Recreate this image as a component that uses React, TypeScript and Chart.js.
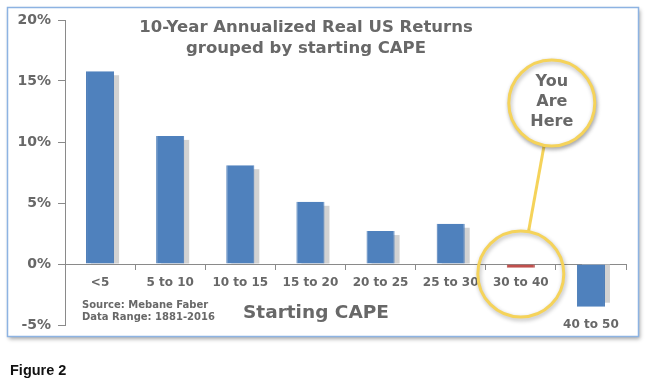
import React, { useEffect, useRef } from 'react';
import { Chart, registerables } from 'chart.js';

Chart.register(...registerables);

const categories = ['<5', '5 to 10', '10 to 15', '15 to 20', '20 to 25', '25 to 30', '30 to 40', '40 to 50'];
const returns = [15.8, 10.5, 8.1, 5.1, 2.7, 3.3, -0.3, -3.5];
const barColors = ['#4f81bd', '#4f81bd', '#4f81bd', '#4f81bd', '#4f81bd', '#4f81bd', '#c0504d', '#4f81bd'];
const yTicks = [-5, 0, 5, 10, 15, 20];
const titleLines = ['10-Year Annualized Real US Returns', 'grouped by starting CAPE'];
const sourceLines = ['Source: Mebane Faber', 'Data Range: 1881-2016'];
const axisTitle = 'Starting CAPE';
const calloutLines = ['You', 'Are', 'Here'];
const figureLabel = 'Figure 2';
const highlightIndex = 6;
const lowLabelIndex = 7;

const FONT = '"DejaVu Sans", Verdana, sans-serif';
const GRAY_TEXT = '#686868';
const YELLOW = '#f5d35a';

const framePlugin = {
  id: 'frame',
  beforeDraw(chart: any) {
    const ctx = chart.ctx;
    ctx.save();
    ctx.fillStyle = '#ffffff';
    ctx.fillRect(0, 0, chart.width, chart.height);
    ctx.shadowColor = 'rgba(0,0,0,0.35)';
    ctx.shadowBlur = 4;
    ctx.shadowOffsetX = 2;
    ctx.shadowOffsetY = 3;
    ctx.fillRect(7, 7, 631, 329);
    ctx.restore();
    ctx.save();
    ctx.strokeStyle = '#8db3e2';
    ctx.lineWidth = 1.5;
    ctx.strokeRect(7.5, 7.5, 631, 329);
    ctx.fillStyle = '#111111';
    ctx.font = 'bold 14.5px "Liberation Sans", Arial, sans-serif';
    ctx.textBaseline = 'alphabetic';
    ctx.fillText(figureLabel, 10, 375);
    ctx.restore();
  },
};

const barShadowPlugin = {
  id: 'barShadow',
  beforeDatasetsDraw(chart: any) {
    const ctx = chart.ctx;
    const meta = chart.getDatasetMeta(0);
    ctx.save();
    ctx.fillStyle = '#d2d2d2';
    meta.data.forEach((el: any) => {
      const { x, y, base, width } = el.getProps(['x', 'y', 'base', 'width'], true);
      const left = x - width / 2 + 5;
      let top: number;
      let bottom: number;
      if (y < base) {
        top = Math.min(y + 4, base);
        bottom = base;
      } else {
        top = base;
        bottom = Math.max(y - 4, base);
      }
      ctx.fillRect(left, top, width, bottom - top);
    });
    ctx.restore();
  },
};

const overlayPlugin = {
  id: 'overlay',
  afterDraw(chart: any) {
    const ctx = chart.ctx;
    ctx.save();
    ctx.fillStyle = GRAY_TEXT;
    ctx.textAlign = 'center';
    ctx.textBaseline = 'alphabetic';
    ctx.font = `bold 16.5px ${FONT}`;
    ctx.fillText(titleLines[0], 306, 32);
    ctx.fillText(titleLines[1], 306, 53);

    ctx.textAlign = 'left';
    ctx.font = `bold 10px ${FONT}`;
    ctx.fillText(sourceLines[0], 82, 308);
    ctx.fillText(sourceLines[1], 82, 320);

    ctx.font = `bold 18.5px ${FONT}`;
    ctx.fillText(axisTitle, 243, 318);

    const el = chart.getDatasetMeta(0).data[highlightIndex];
    const yScale = chart.scales.y;
    const zeroY = yScale.getPixelForValue(0);
    const r = 43;
    const lc = { x: el.x, y: zeroY + 10 };
    const uc = { x: el.x + 31, y: zeroY - 161 };
    const dx = lc.x - uc.x;
    const dy = lc.y - uc.y;
    const len = Math.hypot(dx, dy);
    const ux = dx / len;
    const uy = dy / len;

    ctx.strokeStyle = YELLOW;
    ctx.lineWidth = 3;
    ctx.beginPath();
    ctx.moveTo(uc.x + ux * r, uc.y + uy * r);
    ctx.lineTo(lc.x - ux * r, lc.y - uy * r);
    ctx.stroke();

    ctx.save();
    ctx.shadowColor = 'rgba(0,0,0,0.3)';
    ctx.shadowBlur = 4;
    ctx.shadowOffsetX = 1;
    ctx.shadowOffsetY = 2;
    ctx.beginPath();
    ctx.arc(lc.x, lc.y, r, 0, Math.PI * 2);
    ctx.stroke();
    ctx.beginPath();
    ctx.arc(uc.x, uc.y, r, 0, Math.PI * 2);
    ctx.fillStyle = '#ffffff';
    ctx.fill();
    ctx.stroke();
    ctx.restore();

    ctx.fillStyle = GRAY_TEXT;
    ctx.textAlign = 'center';
    ctx.textBaseline = 'middle';
    ctx.font = `bold 16px ${FONT}`;
    calloutLines.forEach((t, i) => {
      ctx.fillText(t, uc.x, uc.y - 21 + i * 20);
    });
    ctx.restore();
  },
};

export default function App() {
  const ref = useRef<HTMLCanvasElement>(null);
  useEffect(() => {
    document.body.style.margin = '0';
    if (!ref.current) return;
    const chart = new Chart(ref.current, {
      type: 'bar',
      data: {
        labels: categories,
        datasets: [
          {
            data: returns,
            backgroundColor: barColors,
            borderColor: barColors.map((c) => (c === '#c0504d' ? '#b04845' : '#4577b4')),
            borderWidth: { left: 1, right: 1, top: 0, bottom: 0 } as any,
            categoryPercentage: 1,
            barPercentage: 0.4,
          },
        ],
      },
      options: {
        responsive: false,
        animation: false,
        events: [],
        layout: { padding: { left: 0, right: 28, top: 20, bottom: 57 } },
        plugins: { legend: { display: false }, tooltip: { enabled: false }, title: { display: false } },
        scales: {
          x: {
            position: { y: 0 } as any,
            grid: { display: true, drawOnChartArea: false, tickLength: 5, color: '#8a8a8a', offset: true },
            border: { display: true, color: '#8a8a8a', width: 1 },
            ticks: {
              color: GRAY_TEXT,
              font: { family: FONT, size: 12, weight: 'bold', lineHeight: 1.17 },
              padding: 7,
              maxRotation: 0,
              autoSkip: false,
              callback: (_v: any, i: number) => (i === lowLabelIndex ? ['', '', '', categories[i]] : categories[i]),
            },
          },
          y: {
            min: yTicks[0],
            max: yTicks[yTicks.length - 1],
            afterBuildTicks: (scale: any) => {
              scale.ticks = yTicks.map((v) => ({ value: v }));
            },
            afterFit: (scale: any) => {
              scale.width = 65;
            },
            grid: { display: true, drawOnChartArea: false, tickLength: 7, color: '#8a8a8a' },
            border: { display: true, color: '#8a8a8a', width: 1 },
            ticks: {
              color: GRAY_TEXT,
              font: { family: FONT, size: 14, weight: 'bold' },
              padding: 7,
              callback: (v: any) => `${v}%`,
            },
          },
        },
      },
      plugins: [framePlugin, barShadowPlugin, overlayPlugin],
    });
    return () => chart.destroy();
  }, []);
  return (
    <div style={{ position: 'fixed', left: 0, top: 0, width: 654, height: 382, background: '#fff' }}>
      <canvas ref={ref} width={654} height={382} style={{ display: 'block' }} />
    </div>
  );
}
